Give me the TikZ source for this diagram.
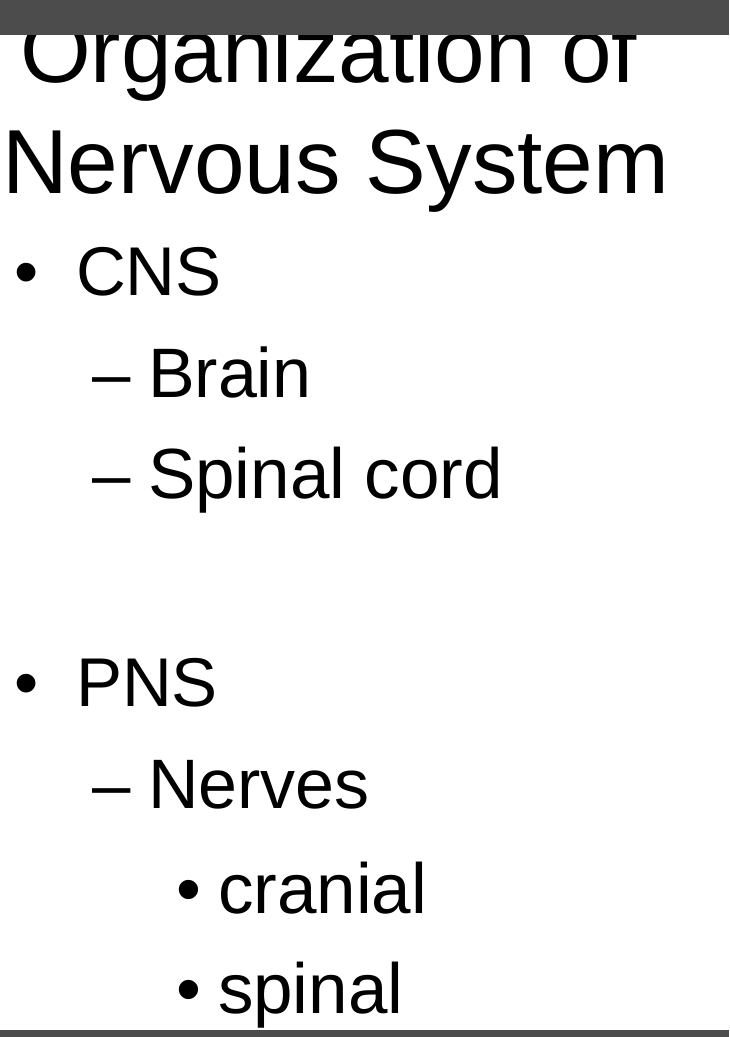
\documentclass[tikz,border=0pt]{standalone}
\usepackage{fontspec}
\setmainfont{Liberation Sans}
\begin{document}
\begin{tikzpicture}[x=1pt,y=-1pt,
  txt/.style={anchor=base west,inner sep=0pt,outer sep=0pt},
  t1/.style={txt,font=\fontsize{91}{91}\selectfont},
  l1/.style={txt,font=\fontsize{69}{69}\selectfont},
  l3/.style={txt,font=\fontsize{71}{71}\selectfont}]
\useasboundingbox (0,0) rectangle (729,1037);
\fill[white] (0,0) rectangle (729,1037);
\node[t1] (title1) at (20,82) {Organization of};
\fill[black!70] (0,0) rectangle (729,35);
\node[t1] (title2) at (2,193) {Nervous System};
\node[l1] (b1) at (14,295) {•};
\node[l1] (cns) at (76,295) {CNS};
\node[l1] (d1) at (92,397) {–};
\node[txt,font=\fontsize{70}{70}\selectfont] (brain) at (148,397) {Brain};
\node[l1] (d2) at (92,498) {–};
\node[txt,font=\fontsize{71}{71}\selectfont] (spinal) at (148,498) {Spinal cord};
\node[l1] (b2) at (14,706) {•};
\node[l1] (pns) at (76,706) {PNS};
\node[l1] (d3) at (92,808) {–};
\node[txt,font=\fontsize{70}{70}\selectfont] (nerves) at (148,808) {Nerves};
\node[l3] (b3) at (176,913) {•};
\node[l3] (cran) at (218,913) {cranial};
\node[l3] (b4) at (176,1013) {•};
\node[l3] (spin) at (218,1013) {spinal};
\fill[black!70] (0,1030) rectangle (729,1037);
\end{tikzpicture}
\end{document}
